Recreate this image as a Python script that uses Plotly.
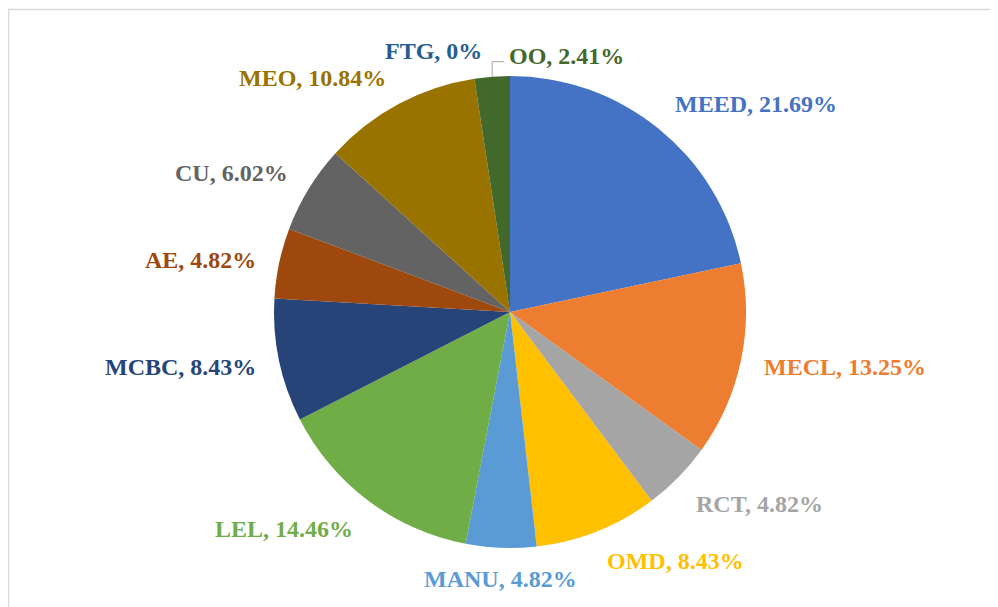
import math
import plotly.graph_objects as go

labels = ["MEED", "MECL", "RCT", "OMD", "MANU", "LEL", "MCBC", "AE", "CU", "MEO", "FTG", "OO"]
values = [21.69, 13.25, 4.82, 8.43, 4.82, 14.46, 8.43, 4.82, 6.02, 10.84, 0, 2.41]
pct_text = ["21.69%", "13.25%", "4.82%", "8.43%", "4.82%", "14.46%", "8.43%", "4.82%", "6.02%", "10.84%", "0%", "2.41%"]
colors = ["#4472C4", "#ED7D31", "#A5A5A5", "#FFC000", "#5B9BD5", "#70AD47",
          "#264478", "#9E480E", "#636363", "#997300", "#255E91", "#43682B"]

W, H = 998, 607
OFF = 8  # page body margin
CX, CY, R = 510, 312, 236
FONT = "Liberation Serif"
FS = 24
HALF_H = 12


def px(x):
    return (x - OFF) / W


def py(y):
    return 1 - (y - OFF) / H


fig = go.Figure(go.Pie(
    labels=labels, values=values, sort=False, direction="clockwise", rotation=0,
    marker=dict(colors=colors, line=dict(width=0)),
    textinfo="none", hoverinfo="label+percent", showlegend=False,
    domain=dict(x=[px(CX - R), px(CX + R)], y=[py(CY + R), py(CY - R)]),
))

total = sum(values)
cum = 0.0
gap_x, gap_y = 22, 16
for lab, v, t, c in zip(labels, values, pct_text, colors):
    mid = (cum + v / 2) / total * 2 * math.pi
    cum += v
    s, co = math.sin(mid), math.cos(mid)
    ex, ey = CX + R * s, CY - R * co
    ax = CX + (R + gap_x) * s
    ay = CY - (R + gap_y) * co
    xanchor = "left" if s > 0.25 else ("right" if s < -0.25 else "center")
    f = max(-1.0, min(1.0, math.copysign(max(abs(co) - 0.2, 0) / 0.5, co)))
    cy_lab = ay - HALF_H * f + (3 if co < 0 else 0)
    if lab == "FTG":
        xanchor = "right"
        ax += 13
    if lab == "OO":
        # label pulled aside with a leader line
        ly = ey - 15
        fig.add_shape(type="line", xref="paper", yref="paper",
                      x0=px(ex), y0=py(ey), x1=px(ex), y1=py(ly),
                      line=dict(color="#A6A6A6", width=1))
        fig.add_shape(type="line", xref="paper", yref="paper",
                      x0=px(ex), y0=py(ly), x1=px(ex + 12), y1=py(ly),
                      line=dict(color="#A6A6A6", width=1))
        ax, cy_lab = ex + 15, ly - 6
        xanchor = "left"
    fig.add_annotation(x=px(ax), y=py(cy_lab), xref="paper", yref="paper",
                       text=f"<b>{lab}, {t}</b>", showarrow=False,
                       xanchor=xanchor, yanchor="middle",
                       font=dict(family=FONT, size=FS, color=c))

# chart area border
fig.add_shape(type="rect", xref="paper", yref="paper",
              x0=px(8.5), y0=py(9.5), x1=px(1020), y1=py(630),
              line=dict(color="#D9D9D9", width=1.5))

fig.update_layout(width=W, height=H, margin=dict(l=0, r=0, t=0, b=0),
                  paper_bgcolor="white", plot_bgcolor="white")
fig.write_html("out.html")
